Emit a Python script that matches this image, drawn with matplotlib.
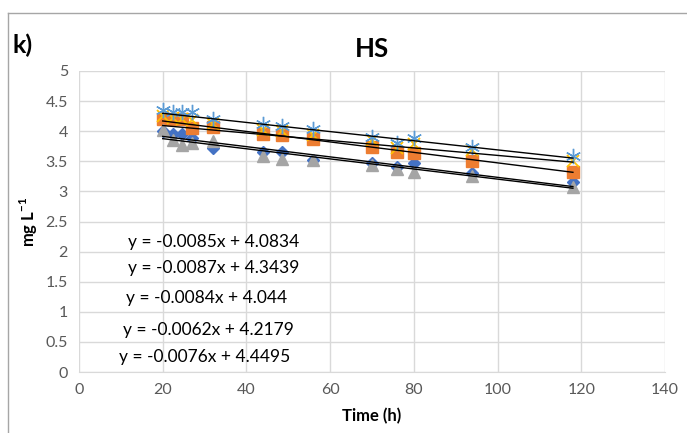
import matplotlib
matplotlib.use("Agg")
import matplotlib.pyplot as plt
import numpy as np
from matplotlib.lines import Line2D

plt.rcParams['font.family'] = ['Lato', 'DejaVu Sans']
plt.rcParams['mathtext.fontset'] = 'custom'
plt.rcParams['mathtext.rm'] = 'Lato'
plt.rcParams['mathtext.bf'] = 'Lato:bold'

time_h = [20, 22.5, 24.5, 27, 32, 44, 48.5, 56, 70, 76, 80, 94, 118]

s_diamond = [4.00, 3.95, 3.95, 3.89, 3.72, 3.66, 3.66, 3.52, 3.47, 3.40, 3.47, 3.30, 3.16]
s_square = [4.21, 4.20, 4.20, 4.05, 4.07, 3.96, 3.94, 3.87, 3.73, 3.66, 3.64, 3.51, 3.33]
s_triangle = [4.02, 3.85, 3.77, 3.80, 3.83, 3.58, 3.53, 3.52, 3.44, 3.37, 3.33, 3.26, 3.08]
s_cross = [4.25, 4.22, 4.20, 4.18, 4.12, 4.02, 4.00, 3.93, 3.85, 3.72, 3.78, 3.68, 3.50]
s_star = [4.35, 4.32, 4.32, 4.32, 4.21, 4.12, 4.09, 4.03, 3.91, 3.80, 3.88, 3.74, 3.58]

slopes = [-0.0085, -0.0087, -0.0084, -0.0062, -0.0076]
intercepts = [4.0834, 4.3439, 4.044, 4.2179, 4.4495]
equations = ["y = -0.0085x + 4.0834", "y = -0.0087x + 4.3439", "y = -0.0084x + 4.044",
             "y = -0.0062x + 4.2179", "y = -0.0076x + 4.4495"]
eq_pos = [(11.6, 2.16), (11.6, 1.73), (11.3, 1.23), (10.4, 0.70), (9.5, 0.25)]

x_ticks = [0, 20, 40, 60, 80, 100, 120, 140]
y_ticks = [0, 0.5, 1, 1.5, 2, 2.5, 3, 3.5, 4, 4.5, 5]
y_ticklabels = ["0", "0.5", "1", "1.5", "2", "2.5", "3", "3.5", "4", "4.5", "5"]

fig = plt.figure(figsize=(6.87, 4.33), dpi=100)
ax = fig.add_axes([79/687, 61/433, (665-79)/687, (372-71)/433])

series = [
    (s_diamond, dict(marker='D', color='#4472C4', markersize=6.5)),
    (s_square, dict(marker='s', color='#ED7D31', markersize=8)),
    (s_triangle, dict(marker='^', color='#A5A5A5', markersize=9)),
    (s_cross, dict(marker='x', color='#FFC000', markersize=8, markeredgewidth=1.3)),
    (s_star, dict(marker=(6, 2, 0), color='#5B9BD5', markersize=11, markeredgewidth=1.0)),
]
for vals, st in series:
    ax.plot(time_h, vals, linestyle='none', zorder=3, **st)

xr = np.array([min(time_h), max(time_h)])
for m, b in zip(slopes, intercepts):
    ax.plot(xr, m * xr + b, color='black', linewidth=1.0, zorder=4)

for txt, (tx, ty) in zip(equations, eq_pos):
    ax.text(tx, ty, txt, fontsize=12.5, color='#000000', ha='left', va='center', zorder=5)

ax.set_xlim(0, 140)
ax.set_ylim(0, 5)
ax.set_xticks(x_ticks)
ax.set_yticks(y_ticks)
ax.set_yticklabels(y_ticklabels)
ax.grid(True, color='#d9d9d9', linewidth=1.0, zorder=0)
ax.set_axisbelow(True)
for sp in ['top', 'right', 'left']:
    ax.spines[sp].set_visible(False)
ax.spines['bottom'].set_color('#d9d9d9')
ax.tick_params(axis='both', length=0, labelsize=11.5, labelcolor='#595959', pad=8)

ax.set_xlabel("Time (h)", fontsize=12, fontweight='bold', labelpad=8)
ax.set_ylabel("mg L$^{\\mathbf{-1}}$", fontsize=12, fontweight='bold', labelpad=4)
ax.set_title("HS", fontsize=18.5, fontweight='bold', pad=10)

fig.text(12/687, 1 - 45/433, "k)", fontsize=18, fontweight='bold', ha='left', va='center')

# outer chart border
fig.add_artist(Line2D([8/687, 8/687], [0, 1 - 13/433], transform=fig.transFigure, color='#a6a6a6', linewidth=1))
fig.add_artist(Line2D([8/687, 1], [1 - 13/433, 1 - 13/433], transform=fig.transFigure, color='#a6a6a6', linewidth=1))

fig.savefig("out.png", dpi=100)
